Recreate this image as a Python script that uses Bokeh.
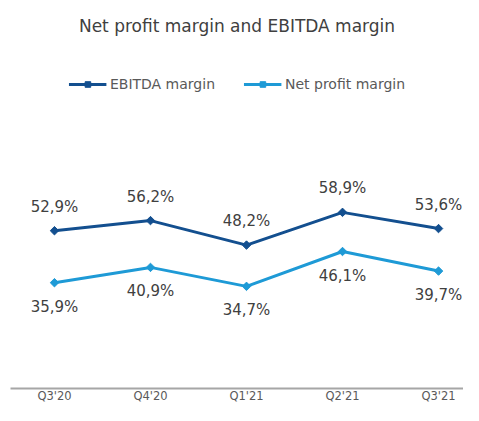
import math
from bokeh.plotting import figure
from bokeh.models import Range1d, FixedTicker, Legend, LegendItem, ColumnDataSource
from bokeh.core.properties import value
from bokeh.embed import file_html
from bokeh.resources import INLINE

quarters = ["Q3'20", "Q4'20", "Q1'21", "Q2'21", "Q3'21"]
ebitda_margin = [52.9, 56.2, 48.2, 58.9, 53.6]
net_profit_margin = [35.9, 40.9, 34.7, 46.1, 39.7]

EBITDA_COLOR = "#134F8F"
NET_COLOR = "#1E9AD6"
FONT = "DejaVu Sans"
LABEL_COLOR = "#404040"


def fmt(v):
    return f"{v:.1f}%".replace(".", ",")


xs = list(range(len(quarters)))
src = ColumnDataSource(dict(
    x=xs,
    ebitda=ebitda_margin,
    net=net_profit_margin,
    ebitda_lbl=[fmt(v) for v in ebitda_margin],
    net_lbl=[fmt(v) for v in net_profit_margin],
))

p = figure(width=463, height=405, output_backend="svg", toolbar_location=None,
           x_range=Range1d(-0.458, 4.26), y_range=Range1d(1.3, 115.1),
           y_axis_location=None,
           min_border_left=10, min_border_right=0, min_border_top=40, min_border_bottom=0)
p.title.text = "Net profit margin and EBITDA margin"
p.title.align = "center"
p.title.text_font = FONT
p.title.text_font_size = "17px"
p.title.text_font_style = "normal"
p.title.text_color = LABEL_COLOR
p.outline_line_color = None
p.grid.visible = False

p.xaxis.ticker = FixedTicker(ticks=xs)
p.xaxis.major_label_overrides = {i: q for i, q in enumerate(quarters)}
p.xaxis.major_tick_line_color = None
p.xaxis.major_tick_out = 0
p.xaxis.major_tick_in = 0
p.xaxis.minor_tick_line_color = None
p.xaxis.minor_tick_out = 0
p.xaxis.axis_line_color = "#A6A6A6"
p.xaxis.axis_line_width = 2
p.xaxis.major_label_text_font = FONT
p.xaxis.major_label_text_font_size = "11.5px"
p.xaxis.major_label_text_color = "#595959"
p.xaxis.major_label_standoff = 0

l1 = p.line("x", "ebitda", source=src, line_width=3, color=EBITDA_COLOR)
m1 = p.scatter("x", "ebitda", source=src, marker="square", angle=math.pi / 4,
               size=6, color=EBITDA_COLOR)
l2 = p.line("x", "net", source=src, line_width=3, color=NET_COLOR)
m2 = p.scatter("x", "net", source=src, marker="square", angle=math.pi / 4,
               size=6, color=NET_COLOR)

p.text("x", "ebitda", text="ebitda_lbl", source=src, y_offset=-24,
       text_align="center", text_baseline="middle", text_font=value(FONT),
       text_font_size="15px", text_color=LABEL_COLOR)
p.text("x", "net", text="net_lbl", source=src, y_offset=24,
       text_align="center", text_baseline="middle", text_font=value(FONT),
       text_font_size="15px", text_color=LABEL_COLOR)

legend = Legend(items=[LegendItem(label="EBITDA margin", renderers=[l1, m1]),
                       LegendItem(label="Net profit margin", renderers=[l2, m2])],
                orientation="horizontal", location="top_center",
                border_line_color=None, background_fill_alpha=0,
                label_text_font=FONT, label_text_font_size="14px",
                label_text_color="#595959", glyph_width=38, glyph_height=14,
                label_height=14, padding=0, spacing=28, label_standoff=4,
                margin=36)
p.add_layout(legend)

open("out.html", "w").write(file_html(p, INLINE))
